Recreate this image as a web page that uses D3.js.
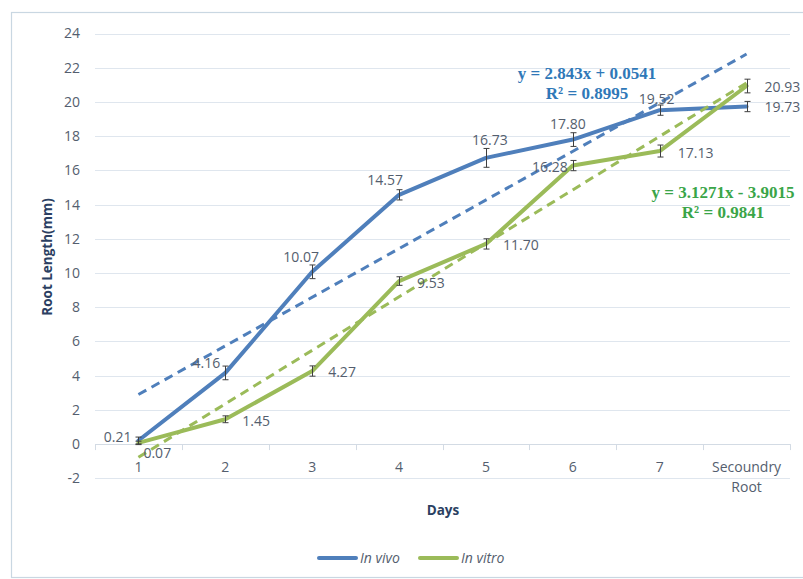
<!DOCTYPE html>
<html>
<head>
<meta charset="utf-8">
<script src="https://cdn.jsdelivr.net/npm/d3@7"></script>
<style>
  html, body { margin: 0; padding: 0; background: #ffffff; }
  svg { display: block; }
</style>
</head>
<body>
<svg id="chart" width="803" height="579"></svg>
<script>
// ---- data ----
const categories = ["1", "2", "3", "4", "5", "6", "7", "Secoundry Root"];
const inVivo  = [0.21, 4.16, 10.07, 14.57, 16.73, 17.80, 19.52, 19.73];
const inVitro = [0.07, 1.45, 4.27, 9.53, 11.70, 16.28, 17.13, 20.93];
const inVivoErr  = [0.2, 0.4, 0.4, 0.3, 0.55, 0.4, 0.3, 0.3];
const inVitroErr = [0.1, 0.2, 0.3, 0.25, 0.3, 0.3, 0.35, 0.4];
const yTicks = [-2, 0, 2, 4, 6, 8, 10, 12, 14, 16, 18, 20, 22, 24];
const trendVivo  = { slope: 2.843,  intercept: 0.0541, label: "y = 2.843x + 0.0541", r2: "R² = 0.8995" };
const trendVitro = { slope: 3.1271, intercept: -3.9015, label: "y = 3.1271x - 3.9015", r2: "R² = 0.9841" };
const seriesNames = ["In vivo", "In vitro"];

(function () {
// label placement (style only)
const vivoLabelPos = [
  {a:"end", dx:-7, dy:2}, {a:"end", dx:-5, dy:-5}, {a:"middle", dx:-11, dy:-10},
  {a:"middle", dx:-14, dy:-10}, {a:"middle", dx:4, dy:-13}, {a:"middle", dx:-5, dy:-11},
  {a:"middle", dx:-3, dy:-6}, {a:"start", dx:18, dy:5}
];
const vitroLabelPos = [
  {a:"start", dx:5, dy:15}, {a:"start", dx:17, dy:7}, {a:"start", dx:16, dy:6},
  {a:"start", dx:18, dy:7}, {a:"start", dx:17, dy:6}, {a:"end", dx:-5, dy:6},
  {a:"start", dx:18, dy:7}, {a:"start", dx:18, dy:6}
];

const colVivo = "#4f7fbb";
const colVitro = "#9bbb59";
const textCol = "#545e6e";
const font = "'Open Sans', 'Noto Sans', sans-serif";
const fs = 14;

const svg = d3.select("#chart");

// outer frame
svg.append("rect").attr("x", 11.5).attr("y", 12.5).attr("width", 800).attr("height", 565)
  .attr("fill", "none").attr("stroke", "#c9d7e2").attr("stroke-width", 1.2);

const pLeft = 95, pRight = 790, pTop = 33.5, pBottom = 478.3;

const x = d3.scaleBand().domain(categories).range([pLeft, pRight]);
const xc = d => x(d) + x.bandwidth() / 2;
const y = d3.scaleLinear().domain([-2, 24]).range([pBottom, pTop]);
const xNum = d3.scaleLinear().domain([1, 8]).range([xc(categories[0]), xc(categories[7])]);

// gridlines
svg.append("g").selectAll("line").data(yTicks).join("line")
  .attr("x1", pLeft).attr("x2", pRight)
  .attr("y1", d => Math.round(y(d)) + 0.5).attr("y2", d => Math.round(y(d)) + 0.5)
  .attr("stroke", d => d === 0 ? "#d3dbe4" : "#dfe6ee").attr("stroke-width", 1.2);

// y axis tick labels
const yAxis = d3.axisLeft(y).tickValues(yTicks).tickSize(0).tickPadding(0).tickFormat(d => String(d));
const gy = svg.append("g").attr("transform", `translate(${pLeft - 15},0)`).call(yAxis);
gy.select(".domain").remove();
gy.selectAll("text").attr("font-family", font).attr("font-size", fs).attr("fill", textCol);

// x axis at 0
const xAxis = d3.axisBottom(x).tickSize(0).tickFormat("");
const gx = svg.append("g").attr("transform", `translate(0,${Math.round(y(0)) + 0.5})`).call(xAxis);
gx.select(".domain").remove();
// tick marks at band boundaries
const bounds = categories.map(c => x(c)).concat([pRight]);
svg.append("g").selectAll("line").data(bounds).join("line")
  .attr("x1", d => Math.round(d) + 0.5).attr("x2", d => Math.round(d) + 0.5)
  .attr("y1", y(0)).attr("y2", y(0) + 6)
  .attr("stroke", "#d3dbe4").attr("stroke-width", 1);

// x labels
const xl = svg.append("g");
categories.forEach(c => {
  const words = c === "Secoundry Root" ? ["Secoundry", "Root"] : [c];
  const t = xl.append("text").attr("x", xc(c)).attr("y", 472)
    .attr("text-anchor", "middle").attr("font-family", font).attr("font-size", fs).attr("fill", textCol);
  words.forEach((w, i) => t.append("tspan").attr("x", xc(c)).attr("dy", i === 0 ? 0 : 20).text(w));
});

// axis titles
svg.append("text").attr("x", 443).attr("y", 515).attr("text-anchor", "middle")
  .attr("font-family", font).attr("font-size", 13.5).attr("font-weight", "bold").attr("fill", "#2b3f62").text("Days");
svg.append("text").attr("transform", "translate(52,257) rotate(-90)").attr("text-anchor", "middle")
  .attr("font-family", font).attr("font-size", 13.5).attr("font-weight", "bold").attr("fill", "#2b3f62").text("Root Length(mm)");

// series lines
const line = d3.line().x((d, i) => xc(categories[i])).y(d => y(d));
svg.append("path").datum(inVivo).attr("d", line).attr("fill", "none")
  .attr("stroke", colVivo).attr("stroke-width", 4).attr("stroke-linejoin", "round").attr("stroke-linecap", "round");
svg.append("path").datum(inVitro).attr("d", line).attr("fill", "none")
  .attr("stroke", colVitro).attr("stroke-width", 4).attr("stroke-linejoin", "round").attr("stroke-linecap", "round");

// trendlines
function trend(t, col) {
  svg.append("line")
    .attr("x1", xNum(1)).attr("y1", y(t.slope * 1 + t.intercept))
    .attr("x2", xNum(8)).attr("y2", y(t.slope * 8 + t.intercept))
    .attr("stroke", col).attr("stroke-width", 3).attr("stroke-dasharray", "9,6");
}
trend(trendVivo, colVivo);
trend(trendVitro, colVitro);

// error bars
function errBars(vals, errs) {
  const g = svg.append("g").attr("stroke", "#3f3f3f").attr("stroke-width", 1);
  vals.forEach((v, i) => {
    const cx = Math.round(xc(categories[i])) + 0.5;
    const y1 = y(v + errs[i]), y2 = y(v - errs[i]);
    g.append("line").attr("x1", cx).attr("x2", cx).attr("y1", y1).attr("y2", y2);
    g.append("line").attr("x1", cx - 3).attr("x2", cx + 3).attr("y1", y1).attr("y2", y1);
    g.append("line").attr("x1", cx - 3).attr("x2", cx + 3).attr("y1", y2).attr("y2", y2);
  });
}
errBars(inVivo, inVivoErr);
errBars(inVitro, inVitroErr);

// data labels
function labels(vals, pos) {
  svg.append("g").selectAll("text").data(vals).join("text")
    .attr("x", (d, i) => xc(categories[i]) + pos[i].dx)
    .attr("y", (d, i) => y(d) + pos[i].dy)
    .attr("text-anchor", (d, i) => pos[i].a)
    .attr("font-family", font).attr("font-size", fs).attr("fill", textCol)
    .text(d => d3.format(".2f")(d));
}
labels(inVivo, vivoLabelPos);
labels(inVitro, vitroLabelPos);

// equations
const serif = "'Liberation Serif', 'DejaVu Serif', serif";
function eq(t, cx, cy, col) {
  svg.append("text").attr("x", cx).attr("y", cy).attr("text-anchor", "middle")
    .attr("font-family", serif).attr("font-weight", "bold").attr("font-size", 17).attr("fill", col).text(t.label);
  svg.append("text").attr("x", cx).attr("y", cy + 20).attr("text-anchor", "middle")
    .attr("font-family", serif).attr("font-weight", "bold").attr("font-size", 17).attr("fill", col).text(t.r2);
}
eq(trendVivo, 587, 79, "#2f78b8");
eq(trendVitro, 723, 198, "#3aa548");

// legend
const lg = svg.append("g");
[[seriesNames[0], colVivo, 319], [seriesNames[1], colVitro, 420]].forEach(([name, col, lx]) => {
  lg.append("line").attr("x1", lx).attr("x2", lx + 37).attr("y1", 558).attr("y2", 558)
    .attr("stroke", col).attr("stroke-width", 4).attr("stroke-linecap", "round");
  lg.append("text").attr("x", lx + 41).attr("y", 563)
    .attr("font-family", font).attr("font-size", fs).attr("font-style", "italic").attr("fill", textCol).text(name);
});
})();
</script>
</body>
</html>
